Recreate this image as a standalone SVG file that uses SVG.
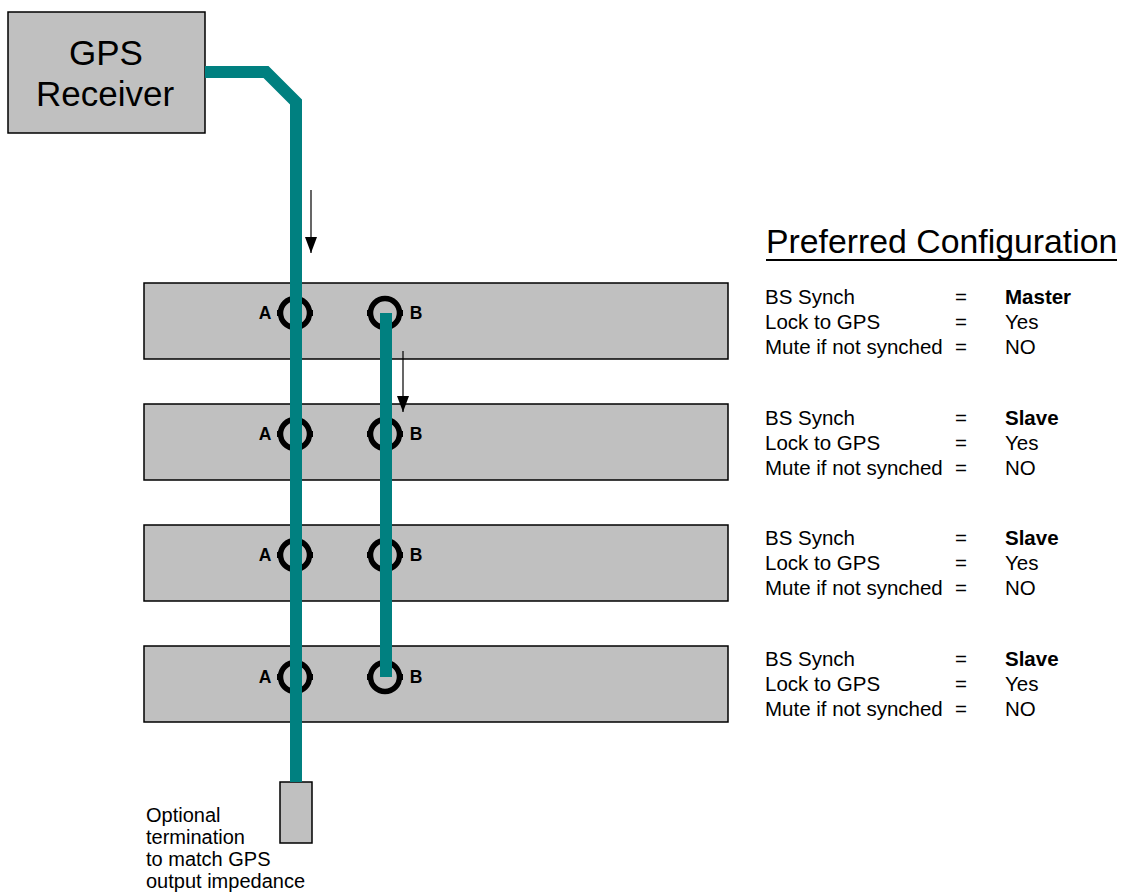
<svg xmlns="http://www.w3.org/2000/svg" width="1128" height="896" viewBox="0 0 1128 896">
<style>
.box{fill:#C0C0C0;stroke:#000;stroke-width:1.5}
.cable{fill:none;stroke:#008080;stroke-width:12;stroke-linejoin:miter}
.t{font-family:"Liberation Sans",Arial,sans-serif;fill:#000}
.cfg{font-size:20.5px}
.lbl{font-size:17.5px;font-weight:bold;text-anchor:middle}
.arr{stroke:#000;stroke-width:1.2;fill:none}
</style>
<defs>
<g id="conn">
<circle cx="0" cy="0" r="14.5" fill="none" stroke="#000" stroke-width="5.5"/>
<rect x="-18" y="-3" width="5" height="6" fill="#000"/>
<rect x="13" y="-3" width="5" height="6" fill="#000"/>
</g>
<marker id="ah" markerWidth="16" markerHeight="12" refX="16" refY="6" orient="auto" markerUnits="userSpaceOnUse" viewBox="0 0 16 12">
<path d="M0,0 L16,6 L0,12 Z" fill="#000"/>
</marker>
</defs>

<g id="gps">
<rect class="box" x="8" y="12" width="197" height="121"/>
<text class="t" x="106" y="65" font-size="35" text-anchor="middle">GPS</text>
<text class="t" x="105" y="106" font-size="35" text-anchor="middle">Receiver</text>
</g>

<g id="panel1">
<rect class="box" x="144" y="283" width="584" height="76"/>
<use href="#conn" x="295" y="313"/>
<use href="#conn" x="385" y="313"/>
<text class="t lbl" x="265" y="319">A</text>
<text class="t lbl" x="416" y="319">B</text>
</g>
<g id="panel2">
<rect class="box" x="144" y="404" width="584" height="76"/>
<use href="#conn" x="295" y="434"/>
<use href="#conn" x="385" y="434"/>
<text class="t lbl" x="265" y="440">A</text>
<text class="t lbl" x="416" y="440">B</text>
</g>
<g id="panel3">
<rect class="box" x="144" y="525" width="584" height="76"/>
<use href="#conn" x="295" y="555"/>
<use href="#conn" x="385" y="555"/>
<text class="t lbl" x="265" y="561">A</text>
<text class="t lbl" x="416" y="561">B</text>
</g>
<g id="panel4">
<rect class="box" x="144" y="646" width="584" height="76"/>
<use href="#conn" x="295" y="677"/>
<use href="#conn" x="385" y="677"/>
<text class="t lbl" x="265" y="683">A</text>
<text class="t lbl" x="416" y="683">B</text>
</g>

<g id="termination">
<rect class="box" x="280" y="782" width="32" height="61"/>
<text class="t" x="146" y="822" font-size="20">Optional</text>
<text class="t" x="146" y="844" font-size="20">termination</text>
<text class="t" x="146" y="866" font-size="20">to match GPS</text>
<text class="t" x="146" y="888" font-size="20">output impedance</text>
</g>

<g id="connectors">
<polyline class="cable" points="205,72 266,72 296,102 296,782"/>
<line class="cable" x1="386" y1="313" x2="386" y2="677"/>
<line class="arr" x1="311" y1="190" x2="311" y2="253" marker-end="url(#ah)"/>
<line class="arr" x1="403" y1="351" x2="403" y2="412" marker-end="url(#ah)"/>
</g>

<g id="config">
<text class="t" x="766" y="253" font-size="33.8">Preferred Configuration</text>
<line x1="766" y1="260" x2="1117" y2="260" stroke="#000" stroke-width="2"/>
<g class="t cfg">
<text x="765" y="304">BS Synch</text><text x="955" y="304">=</text><text x="1005" y="304" font-weight="bold">Master</text>
<text x="765" y="329">Lock to GPS</text><text x="955" y="329">=</text><text x="1005" y="329">Yes</text>
<text x="765" y="354">Mute if not synched</text><text x="955" y="354">=</text><text x="1005" y="354">NO</text>

<text x="765" y="425">BS Synch</text><text x="955" y="425">=</text><text x="1005" y="425" font-weight="bold">Slave</text>
<text x="765" y="450">Lock to GPS</text><text x="955" y="450">=</text><text x="1005" y="450">Yes</text>
<text x="765" y="475">Mute if not synched</text><text x="955" y="475">=</text><text x="1005" y="475">NO</text>

<text x="765" y="545">BS Synch</text><text x="955" y="545">=</text><text x="1005" y="545" font-weight="bold">Slave</text>
<text x="765" y="570">Lock to GPS</text><text x="955" y="570">=</text><text x="1005" y="570">Yes</text>
<text x="765" y="595">Mute if not synched</text><text x="955" y="595">=</text><text x="1005" y="595">NO</text>

<text x="765" y="666">BS Synch</text><text x="955" y="666">=</text><text x="1005" y="666" font-weight="bold">Slave</text>
<text x="765" y="691">Lock to GPS</text><text x="955" y="691">=</text><text x="1005" y="691">Yes</text>
<text x="765" y="716">Mute if not synched</text><text x="955" y="716">=</text><text x="1005" y="716">NO</text>
</g>
</g>
</svg>
